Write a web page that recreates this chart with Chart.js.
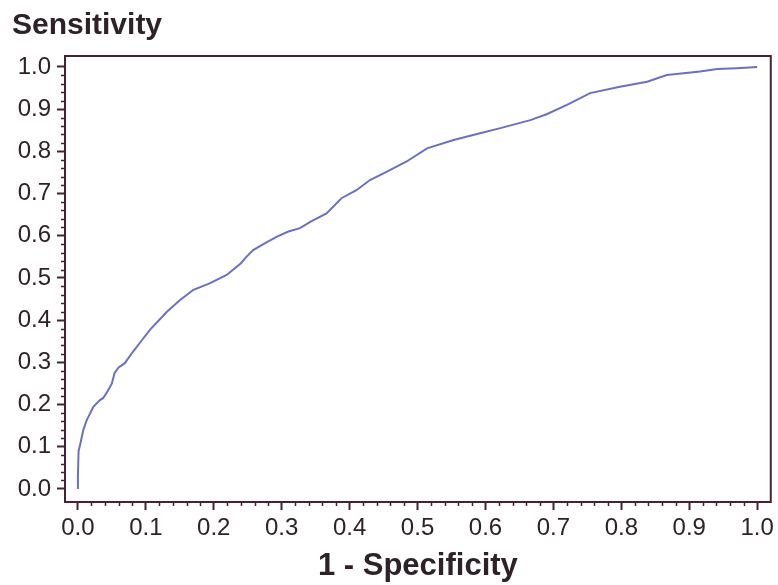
<!DOCTYPE html>
<html>
<head>
<meta charset="utf-8">
<script src="https://cdn.jsdelivr.net/npm/chart.js@4.4.1/dist/chart.umd.min.js"></script>
<style>
  html, body { margin: 0; padding: 0; background: #fff; }
  #wrap { width: 778px; height: 585px; }
</style>
</head>
<body>
<div id="wrap"><canvas id="roc"></canvas></div>
<script>
// 1 - specificity (false positive rate)
const fpr = [0, 0.0, 0.001, 0.004, 0.008, 0.013, 0.023, 0.032, 0.037, 0.042, 0.05, 0.054, 0.06, 0.069, 0.081,
  0.093, 0.106, 0.131, 0.15, 0.17, 0.194, 0.219, 0.24, 0.248, 0.258, 0.275, 0.293, 0.31, 0.327, 0.342,
  0.366, 0.388, 0.41, 0.43, 0.455, 0.484, 0.514, 0.553, 0.592, 0.622, 0.666, 0.69, 0.72, 0.754, 0.798,
  0.838, 0.867, 0.916, 0.941, 0.97, 1.0];
// sensitivity
const tpr = [0, 0.03, 0.09, 0.11, 0.14, 0.163, 0.195, 0.21, 0.215, 0.227, 0.25, 0.275, 0.288, 0.298, 0.325,
  0.35, 0.377, 0.42, 0.447, 0.472, 0.487, 0.507, 0.535, 0.55, 0.566, 0.582, 0.598, 0.61, 0.618, 0.633,
  0.653, 0.689, 0.708, 0.732, 0.752, 0.776, 0.807, 0.827, 0.843, 0.855, 0.874, 0.888, 0.91, 0.938, 0.953,
  0.965, 0.981, 0.989, 0.995, 0.997, 1.0];

const tickValues = [0, 0.1, 0.2, 0.3, 0.4, 0.5, 0.6, 0.7, 0.8, 0.9, 1.0];

const frameColor = "#4a2035";
const textColor = "#2e2228";
const fontFamily = "'Liberation Sans', Arial, sans-serif";

// frame box + minor ticks
const framePlugin = {
  id: "frame",
  afterDraw(chart) {
    const ctx = chart.ctx;
    const a = chart.chartArea;
    const xs = chart.scales.x, ys = chart.scales.y;
    ctx.save();
    ctx.strokeStyle = frameColor;
    ctx.lineWidth = 2;
    ctx.strokeRect(a.left, a.top, a.right - a.left, a.bottom - a.top);
    ctx.lineWidth = 1.5;
    ctx.beginPath();
    for (let i = 0; i <= 50; i++) {
      if (i % 5 === 0) continue;
      const v = i / 50;
      const px = Math.round(xs.getPixelForValue(v)) + 0.5;
      ctx.moveTo(px, a.bottom);
      ctx.lineTo(px, a.bottom + 4);
      const py = Math.round(ys.getPixelForValue(v)) + 0.5;
      ctx.moveTo(a.left, py);
      ctx.lineTo(a.left - 4, py);
    }
    ctx.stroke();
    ctx.restore();
  }
};

new Chart(document.getElementById("roc"), {
  type: "scatter",
  data: {
    datasets: [{
      data: fpr.map((x, i) => ({ x: x, y: tpr[i] })),
      showLine: true,
      borderColor: "#6a70c4",
      borderWidth: 2,
      pointRadius: 0,
      tension: 0,
      fill: false
    }]
  },
  options: {
    responsive: true,
    maintainAspectRatio: false,
    animation: false,
    layout: { padding: { left: 12, right: 7, top: 0, bottom: 0 } },
    plugins: {
      legend: { display: false },
      tooltip: { enabled: false },
      title: {
        display: true,
        text: "Sensitivity",
        align: "start",
        color: textColor,
        font: { family: fontFamily, size: 30, weight: "bold" },
        padding: { top: 8, bottom: 12 }
      }
    },
    scales: {
      x: {
        type: "linear",
        min: -0.019,
        max: 1.02,
        afterFit: s => { s.height = 83; },
        afterBuildTicks: s => { s.ticks = tickValues.map(v => ({ value: v })); },
        ticks: {
          color: textColor,
          padding: 4,
          maxRotation: 0,
          autoSkip: false,
          font: { family: fontFamily, size: 24 },
          callback: v => v.toFixed(1)
        },
        grid: { drawOnChartArea: false, tickLength: 8, tickColor: frameColor, tickWidth: 2 },
        border: { display: false },
        title: {
          display: true,
          text: "1 - Specificity",
          color: textColor,
          font: { family: fontFamily, size: 31, weight: "bold" },
          padding: { top: 0, bottom: 0 }
        }
      },
      y: {
        type: "linear",
        min: -0.031,
        max: 1.026,
        afterFit: s => { s.width = 53; },
        afterBuildTicks: s => { s.ticks = tickValues.map(v => ({ value: v })); },
        ticks: {
          color: textColor,
          padding: 6,
          autoSkip: false,
          font: { family: fontFamily, size: 24 },
          callback: v => v.toFixed(1)
        },
        grid: { drawOnChartArea: false, tickLength: 8, tickColor: frameColor, tickWidth: 2 },
        border: { display: false }
      }
    }
  },
  plugins: [framePlugin]
});
</script>
</body>
</html>
